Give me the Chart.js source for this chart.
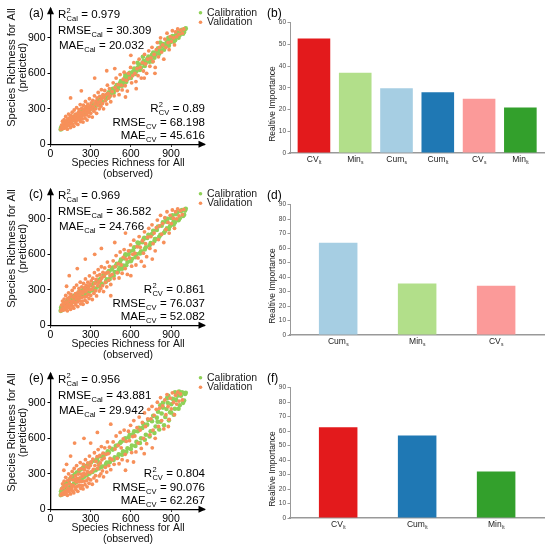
<!DOCTYPE html>
<html>
<head>
<meta charset="utf-8">
<script src="https://cdn.jsdelivr.net/npm/chart.js@4.4.0/dist/chart.umd.min.js"></script>
<style>
  html, body { margin:0; padding:0; background:#fff; }
  #wrap { position:relative; width:550px; height:550px; overflow:hidden; }
  canvas { position:absolute; }
</style>
</head>
<body>
<div id="wrap">
  <canvas id="cA" width="275" height="182" style="left:0;top:0"></canvas>
  <canvas id="cC" width="275" height="182" style="left:0;top:181px"></canvas>
  <canvas id="cE" width="275" height="182" style="left:0;top:365px"></canvas>
  <canvas id="cB" width="288" height="182" style="left:262px;top:0"></canvas>
  <canvas id="cD" width="288" height="182" style="left:262px;top:182px"></canvas>
  <canvas id="cF" width="288" height="182" style="left:262px;top:365px"></canvas>
</div>
<script>
const FONT = '"Liberation Sans", Arial, Helvetica, sans-serif';
Chart.defaults.font.family = FONT;

// ---- scatter data, flat [observed, predicted, ...] ----
const xyTicks = [0, 300, 600, 900];

const calA = [76,126, 79,140, 82,131, 85,148, 88,137, 91,155, 94,142, 97,162, 100,148, 104,170,
  107,156, 111,176, 115,162, 119,184, 123,170, 127,192, 131,178, 136,200, 141,186, 146,208,
  151,194, 157,216, 163,203, 169,226, 175,212, 182,236, 189,222, 196,248, 203,234, 211,260,
  219,245, 227,272, 235,256, 244,284, 253,268, 262,296, 272,281, 282,308, 292,293, 303,322,
  314,305, 325,338, 337,320, 349,356, 361,338, 374,378, 387,358, 400,402, 414,382, 428,428,
  442,408, 457,455, 472,436, 487,484, 502,466, 518,515, 534,496, 550,548, 566,528, 583,582,
  600,560, 617,615, 634,594, 651,650, 668,628, 686,686, 704,662, 722,720, 740,698, 758,756,
  776,732, 794,790, 812,766, 830,826, 848,800, 866,858, 884,834, 902,892, 920,868, 938,925,
  956,902, 974,955, 990,935, 1005,975, 690,740, 760,700, 880,900, 930,880, 560,590, 820,860,
  356,372, 380,368, 395,410, 420,400, 436,440, 450,430, 465,470, 480,462, 495,500, 510,488,
  526,535, 542,522, 558,570, 575,552, 592,605, 608,585, 625,640, 642,620, 660,672, 676,650,
  695,705, 712,690, 731,742, 748,722, 767,775, 785,758, 803,812, 821,790, 839,848, 857,828,
  875,880, 893,862, 911,915, 929,896, 947,945, 965,925, 982,968, 998,950, 1010,980, 870,840,
  650,690, 520,505];
const valA = [78,128, 83,162, 86,141, 90,195, 93,133, 96,171, 99,150, 102,208, 105,138, 108,182,
  111,161, 114,236, 117,147, 120,192, 123,170, 126,128, 129,214, 132,183, 135,256, 138,160,
  141,201, 144,226, 147,176, 150,142, 153,245, 156,205, 159,188, 162,272, 165,168, 168,228,
  171,212, 174,152, 177,290, 180,236, 183,198, 186,255, 189,180, 192,219, 195,310, 198,247,
  201,205, 204,168, 207,268, 210,230, 213,292, 216,214, 219,250, 222,336, 225,192, 228,271,
  231,238, 234,305, 237,215, 240,262, 243,188, 246,330, 249,282, 252,246, 255,300, 258,221,
  261,362, 264,276, 267,318, 270,250, 273,205, 276,294, 279,340, 282,268, 285,312, 288,236,
  291,385, 294,290, 297,325, 300,262, 304,350, 308,300, 312,230, 316,372, 320,318, 324,280,
  328,410, 332,342, 336,300, 340,365, 344,262, 348,392, 352,330, 356,438, 360,352, 364,300,
  368,405, 372,370, 376,322, 380,462, 384,388, 388,345, 392,420, 396,300, 400,398, 405,455,
  410,368, 415,420, 420,340, 425,500, 430,430, 435,390, 440,470, 445,410, 450,360,
  460,445, 468,520, 475,410, 482,480, 490,560, 498,455, 505,505, 512,420, 520,590, 528,500,
  535,460, 543,550, 550,610, 558,495, 566,540, 574,450, 582,600, 590,560, 598,650, 606,520,
  614,580, 622,690, 630,600, 638,530, 646,640, 654,580, 662,720, 670,650, 678,560, 686,690,
  694,620, 702,760, 710,680, 718,600, 726,720, 734,790, 742,660, 750,730, 758,820, 766,700,
  774,760, 782,650, 790,800, 798,860, 806,740, 814,820, 822,900, 830,780, 838,840, 846,720,
  854,890, 862,820, 870,940, 878,860, 886,800, 894,910, 902,870, 910,960, 918,900, 926,840,
  934,950, 942,910, 950,975, 960,930, 970,965, 985,940, 995,975,
  150,392, 230,452, 330,560, 420,622, 560,400, 700,560, 600,752, 480,640, 640,470, 780,600];

const calC = [76,122, 79,148, 82,128, 85,156, 88,133, 91,164, 94,140, 97,172, 100,145, 104,180,
  107,152, 111,188, 115,158, 119,196, 123,166, 127,205, 131,173, 136,214, 141,182, 146,222,
  151,190, 157,232, 163,198, 169,242, 175,206, 182,252, 189,216, 196,264, 203,226, 211,276,
  219,238, 227,288, 235,248, 244,300, 253,262, 262,312, 272,274, 282,325, 292,285, 303,340,
  314,296, 325,356, 337,310, 349,372, 361,328, 374,395, 387,345, 400,420, 414,368, 428,446,
  442,392, 457,472, 472,418, 487,502, 502,448, 518,532, 534,478, 550,566, 566,508, 583,598,
  600,542, 617,632, 634,575, 651,668, 668,608, 686,702, 704,642, 722,738, 740,676, 758,772,
  776,712, 794,806, 812,748, 830,842, 848,782, 866,875, 884,815, 902,908, 920,850, 938,940,
  956,888, 974,965, 990,925, 1005,970, 700,740, 780,730, 860,900, 920,880, 560,600, 640,600,
  356,380, 380,352, 395,425, 420,390, 436,458, 450,418, 465,488, 480,450, 495,520, 510,470,
  526,555, 542,505, 558,590, 575,535, 592,625, 608,560, 625,660, 642,600, 660,695, 676,625,
  695,730, 712,660, 731,765, 748,695, 767,800, 785,730, 803,835, 821,765, 839,870, 857,800,
  875,900, 893,840, 911,930, 929,870, 947,955, 965,905, 982,975, 998,935, 1010,985, 870,820,
  650,700, 520,490];
const valC = [78,122, 83,170, 86,138, 90,205, 93,128, 96,178, 99,146, 102,222, 105,132, 108,190,
  111,158, 114,252, 117,140, 120,198, 123,166, 126,122, 129,228, 132,180, 135,275, 138,152,
  141,210, 144,240, 147,170, 150,135, 153,262, 156,200, 159,185, 162,295, 165,160, 168,238,
  171,206, 174,145, 177,318, 180,244, 183,192, 186,268, 189,172, 192,225, 195,340, 198,255,
  201,198, 204,158, 207,282, 210,232, 213,312, 216,208, 219,258, 222,365, 225,182, 228,285,
  231,236, 234,325, 237,205, 240,270, 243,178, 246,355, 249,292, 252,240, 255,318, 258,212,
  261,392, 264,286, 267,338, 270,245, 273,195, 276,305, 279,365, 282,262, 285,330, 288,226,
  291,418, 294,300, 297,348, 300,252, 304,375, 308,305, 312,218, 316,398, 320,325, 324,270,
  328,445, 332,355, 336,292, 340,385, 344,248, 348,418, 352,335, 356,470, 360,362, 364,290,
  368,428, 372,378, 376,310, 380,495, 384,400, 388,335, 392,448, 396,285, 400,415, 405,485,
  410,362, 415,440, 420,325, 425,535, 430,448, 435,380, 440,498, 445,420, 450,345,
  460,430, 468,545, 475,395, 482,495, 490,590, 498,445, 505,520, 512,400, 520,620, 528,510,
  535,440, 543,575, 550,640, 558,480, 566,560, 574,430, 582,630, 590,570, 598,680, 606,500,
  614,600, 622,720, 630,610, 638,510, 646,665, 654,570, 662,750, 670,660, 678,540, 686,715,
  694,610, 702,790, 710,690, 718,580, 726,745, 734,820, 742,650, 750,750, 758,850, 766,690,
  774,780, 782,630, 790,825, 798,890, 806,725, 814,840, 822,930, 830,770, 838,860, 846,700,
  854,910, 862,810, 870,960, 878,870, 886,780, 894,930, 902,860, 910,975, 918,905, 926,820,
  934,960, 942,900, 950,985, 960,925, 970,970, 985,935, 995,980,
  140,420, 200,480, 260,560, 380,650, 480,700, 600,420, 700,500, 560,780, 330,600, 760,560, 120,330, 450,250];

const calE = [76,120, 79,152, 82,126, 85,165, 88,132, 91,175, 94,140, 97,185, 100,146, 104,195,
  107,152, 111,205, 115,160, 119,218, 123,168, 127,230, 131,176, 136,242, 141,185, 146,255,
  151,195, 157,268, 163,205, 169,282, 175,215, 182,296, 189,226, 196,310, 203,238, 211,324,
  219,250, 227,338, 235,262, 244,352, 253,276, 262,366, 272,290, 282,380, 292,302, 303,396,
  314,316, 325,412, 337,330, 349,428, 361,346, 374,448, 387,362, 400,468, 414,380, 428,490,
  442,398, 457,512, 472,418, 487,535, 502,440, 518,558, 534,462, 550,582, 566,486, 583,608,
  600,510, 617,634, 634,535, 651,660, 668,560, 686,688, 704,588, 722,716, 740,615, 758,745,
  776,645, 794,775, 812,675, 830,810, 848,710, 866,848, 884,752, 902,888, 920,800, 938,925,
  956,850, 974,960, 990,900, 1005,975, 960,995, 880,960, 840,900, 920,930, 800,740, 900,820,
  356,400, 380,360, 395,445, 420,395, 436,480, 450,420, 465,505, 480,440, 495,540, 510,465,
  526,570, 542,490, 558,600, 575,515, 592,630, 608,540, 625,660, 642,570, 660,690, 676,600,
  695,720, 712,630, 731,755, 748,660, 767,790, 785,700, 803,825, 821,740, 839,860, 857,780,
  875,900, 893,820, 911,935, 929,850, 947,960, 965,880, 982,990, 998,920, 1010,985, 870,940,
  820,880, 930,990];
const valE = [78,120, 83,175, 86,135, 90,215, 93,125, 96,185, 99,142, 102,238, 105,128, 108,198,
  111,155, 114,270, 117,138, 120,206, 123,162, 126,118, 129,245, 132,178, 135,300, 138,148,
  141,218, 144,255, 147,165, 150,130, 153,280, 156,205, 159,180, 162,320, 165,155, 168,248,
  171,202, 174,140, 177,345, 180,252, 183,188, 186,282, 189,168, 192,232, 195,370, 198,262,
  201,195, 204,152, 207,298, 210,236, 213,335, 216,205, 219,265, 222,395, 225,178, 228,298,
  231,235, 234,345, 237,200, 240,280, 243,172, 246,380, 249,305, 252,238, 255,335, 258,208,
  261,420, 264,295, 267,360, 270,242, 273,190, 276,318, 279,392, 282,260, 285,350, 288,220,
  291,450, 294,312, 297,370, 300,248, 304,400, 308,318, 312,212, 316,425, 320,338, 324,265,
  328,478, 332,370, 336,285, 340,405, 344,240, 348,445, 352,345, 356,505, 360,375, 364,282,
  368,455, 372,392, 376,300, 380,530, 384,418, 388,325, 392,475, 396,275, 400,432, 405,520,
  410,355, 415,465, 420,315, 425,570, 430,470, 435,370, 440,525, 445,430, 450,335,
  460,420, 468,570, 475,380, 482,510, 490,620, 498,430, 505,540, 512,385, 520,650, 528,520,
  535,420, 543,595, 550,670, 558,465, 566,575, 574,410, 582,660, 590,580, 598,710, 606,480,
  614,615, 622,750, 630,620, 638,485, 646,690, 654,560, 662,780, 670,670, 678,515, 686,735,
  694,600, 702,815, 710,700, 718,555, 726,765, 734,845, 742,630, 750,765, 758,870, 766,670,
  774,795, 782,600, 790,845, 798,905, 806,700, 814,855, 822,945, 830,750, 838,875, 846,680,
  854,925, 862,800, 870,970, 878,870, 886,760, 894,940, 902,850, 910,985, 918,905, 926,800,
  934,965, 942,890, 950,990, 960,915, 970,975, 985,925,
  120,380, 180,560, 250,600, 350,650, 450,720, 620,400, 700,470, 760,520, 560,330, 100,330, 150,450, 300,560, 880,700];

const statsA = { cal:['0.979','30.309','20.032'], cv:['0.89','68.198','45.616'] };
const statsC = { cal:['0.969','36.582','24.766'], cv:['0.861','76.037','52.082'] };
const statsE = { cal:['0.956','43.881','29.942'], cv:['0.804','90.076','62.267'] };

// ---- bar data ----
const namesB = ['CV','Min','Cum','Cum','CV','Min'];
const subsB  = ['lt','s','s','lt','s','lt'];
const valsB  = [52.7, 37.0, 29.8, 28.0, 25.0, 21.0];
const colsB  = ['#e31a1c','#b2df8a','#a6cee3','#1f78b4','#fb9a99','#33a02c'];

const namesD = ['Cum','Min','CV'];
const subsD  = ['s','s','s'];
const valsD  = [63.7, 35.5, 34.1];
const colsD  = ['#a6cee3','#b2df8a','#fb9a99'];

const namesF = ['CV','Cum','Min'];
const subsF  = ['lt','lt','lt'];
const valsF  = [62.7, 56.9, 32.1];
const colsF  = ['#e31a1c','#1f78b4','#33a02c'];

const calColor = '#8fd158', valColor = '#f7905a';

function pairs(a){
  const out = [];
  for (let i = 0; i < a.length; i += 2) out.push({x:a[i], y:a[i+1]});
  return out;
}

// text like R^2_Cal = 0.979
function statText(ctx, x, y, main, sup, sub, rest, right){
  const big = '11.5px ' + FONT, small = '7.5px ' + FONT;
  ctx.font = big;
  const wm = ctx.measureText(main).width, wr = ctx.measureText(rest).width;
  ctx.font = small;
  const ws = Math.max(sup ? ctx.measureText(sup).width : 0, ctx.measureText(sub).width);
  const x0 = right ? x - (wm + ws + wr + 0.6) : x;
  ctx.textAlign = 'left'; ctx.textBaseline = 'alphabetic';
  ctx.font = big; ctx.fillText(main, x0, y);
  ctx.font = small;
  if (sup) ctx.fillText(sup, x0 + wm + 0.3, y - 5.2);
  ctx.fillText(sub, x0 + wm + 0.3, y + 3);
  ctx.font = big; ctx.fillText(rest, x0 + wm + ws + 0.6, y);
}

const scatterDeco = {
  id: 'scatterDeco',
  afterDraw(chart, args, opts){
    const {ctx, chartArea:a} = chart;
    ctx.save();
    ctx.fillStyle = '#000';
    // arrow heads on the axes
    ctx.beginPath();
    ctx.moveTo(a.right + 1.5, a.bottom); ctx.lineTo(a.right - 6, a.bottom - 3.5); ctx.lineTo(a.right - 6, a.bottom + 3.5);
    ctx.closePath(); ctx.fill();
    ctx.beginPath();
    ctx.moveTo(a.left, a.top - 1.5); ctx.lineTo(a.left - 3.5, a.top + 6); ctx.lineTo(a.left + 3.5, a.top + 6);
    ctx.closePath(); ctx.fill();

    // panel tag
    ctx.font = '12px ' + FONT; ctx.textAlign = 'left'; ctx.textBaseline = 'alphabetic';
    ctx.fillText(opts.tag, 29, 16.5);

    // stats
    const s = opts.stats;
    statText(ctx, 58, 18.3, 'R', '2', 'Cal', ' = ' + s.cal[0], false);
    statText(ctx, 58, 34, 'RMSE', '', 'Cal', ' = ' + s.cal[1], false);
    statText(ctx, 59, 49.3, 'MAE', '', 'Cal', ' = ' + s.cal[2], false);
    statText(ctx, 205, 112, 'R', '2', 'CV', ' = ' + s.cv[0], true);
    statText(ctx, 205, 125.7, 'RMSE', '', 'CV', ' = ' + s.cv[1], true);
    statText(ctx, 205, 138.5, 'MAE', '', 'CV', ' = ' + s.cv[2], true);

    // legend
    const ds = chart.data.datasets;
    ctx.font = '10.5px ' + FONT; ctx.textBaseline = 'middle';
    [[ds[0], 12.7], [ds[1], 22.3]].forEach(([d, yy]) => {
      ctx.fillStyle = d.backgroundColor;
      ctx.beginPath(); ctx.arc(200.5, yy, 1.8, 0, Math.PI * 2); ctx.fill();
      ctx.fillStyle = '#222';
      ctx.fillText(d.label, 207, yy);
    });

    // axis titles
    ctx.fillStyle = '#111'; ctx.textAlign = 'center';
    ctx.font = '10.5px ' + FONT;
    ctx.fillText('Species Richness for All', 128, 163.5);
    ctx.fillText('(observed)', 128, 174);
    ctx.save();
    ctx.translate(11.5, 67.5); ctx.rotate(-Math.PI / 2);
    ctx.font = '11px ' + FONT;
    ctx.fillText('Species Richness for All', 0, 0);
    ctx.fillText('(preticted)', 0, 11);
    ctx.restore();
    ctx.restore();
  }
};

function scatterPanel(id, cal, val, stats, tag){
  return new Chart(document.getElementById(id), {
    type: 'scatter',
    data: { datasets: [
      { label:'Calibration', data:pairs(cal), backgroundColor:calColor, borderWidth:0, pointRadius:2.3, order:2 },
      { label:'Validation', data:pairs(val), backgroundColor:valColor, borderWidth:0, pointRadius:1.9, order:1 }
    ]},
    options: {
      responsive:false, animation:false, events:[],
      layout:{ padding:{ left:0, right:70.5, top:4.7, bottom:0 } },
      plugins:{ legend:{display:false}, tooltip:{enabled:false}, scatterDeco:{ stats, tag } },
      scales: {
        x: {
          type:'linear', min:0, max:1150,
          afterBuildTicks: s => { s.ticks = xyTicks.map(v => ({value:v})); },
          afterFit: s => { s.height = 37.7; },
          grid:{ drawOnChartArea:false, tickLength:2.5, color:'#000' },
          border:{ color:'#000', width:1.3 },
          ticks:{ color:'#000', font:{size:10.5}, padding:1, maxRotation:0, autoSkip:false }
        },
        y: {
          type:'linear', min:0, max:1150,
          afterBuildTicks: s => { s.ticks = xyTicks.map(v => ({value:v})); },
          afterFit: s => { s.width = 50.5; },
          grid:{ drawOnChartArea:false, tickLength:3, color:'#000' },
          border:{ color:'#000', width:1.3 },
          ticks:{ color:'#000', font:{size:10.5}, padding:2, autoSkip:false }
        }
      }
    },
    plugins:[scatterDeco]
  });
}

const barDeco = {
  id: 'barDeco',
  afterDraw(chart, args, opts){
    const {ctx, chartArea:a, scales:{x}} = chart;
    ctx.save();
    ctx.fillStyle = '#222'; ctx.textBaseline = 'alphabetic'; ctx.textAlign = 'left';
    opts.names.forEach((n, i) => {
      const px = x.getPixelForValue(i);
      ctx.font = '8.5px ' + FONT;
      const wm = ctx.measureText(n).width;
      ctx.font = '5px ' + FONT;
      const wsub = ctx.measureText(opts.subs[i]).width;
      const x0 = px - (wm + wsub) / 2;
      ctx.font = '8.5px ' + FONT; ctx.fillText(n, x0, a.bottom + 9);
      ctx.font = '5px ' + FONT; ctx.fillText(opts.subs[i], x0 + wm + 0.3, a.bottom + 10.5);
    });
    ctx.fillStyle = '#000';
    ctx.font = '12px ' + FONT;
    ctx.fillText(opts.tag, 5, 16.5);
    ctx.save();
    ctx.translate(11, 104); ctx.rotate(-Math.PI / 2);
    ctx.textAlign = 'center'; ctx.textBaseline = 'middle';
    ctx.fillStyle = '#222'; ctx.font = '8.5px ' + FONT;
    ctx.fillText('Realtive Importance', 0, 0);
    ctx.restore();
    ctx.restore();
  }
};

function barPanel(id, names, subs, vals, cols, ymax, xmin, xmax, pct, tag){
  return new Chart(document.getElementById(id), {
    type: 'bar',
    data: { datasets: [{
      data: vals.map((v, i) => ({x:i, y:v})),
      backgroundColor: cols, borderWidth:0, barPercentage:pct, categoryPercentage:1
    }]},
    options: {
      responsive:false, animation:false, events:[],
      layout:{ padding:{ left:0, right:5.7, top:22.7, bottom:0 } },
      plugins:{ legend:{display:false}, tooltip:{enabled:false}, barDeco:{ names, subs, tag } },
      scales: {
        x: {
          type:'linear', min:xmin, max:xmax, offset:false,
          ticks:{ display:false }, grid:{ display:false, offset:false },
          border:{ color:'#999', width:1.5 },
          afterFit: s => { s.height = 29; }
        },
        y: {
          min:0, max:ymax,
          ticks:{ stepSize:10, font:{size:6.5}, color:'#444', padding:1.5 },
          grid:{ drawOnChartArea:false, tickLength:2.5, color:'#999' },
          border:{ color:'#999', width:1 },
          afterFit: s => { s.width = 28; }
        }
      }
    },
    plugins:[barDeco]
  });
}

scatterPanel('cA', calA, valA, statsA, '(a)');
scatterPanel('cC', calC, valC, statsC, '(c)');
scatterPanel('cE', calE, valE, statsE, '(e)');
barPanel('cB', namesB, subsB, valsB, colsB, 60, -0.58, 5.58, 0.79, '(b)');
barPanel('cD', namesD, subsD, valsD, colsD, 90, -0.61, 2.61, 0.8, '(d)');
barPanel('cF', namesF, subsF, valsF, colsF, 90, -0.61, 2.61, 0.8, '(f)');
</script>
</body>
</html>
